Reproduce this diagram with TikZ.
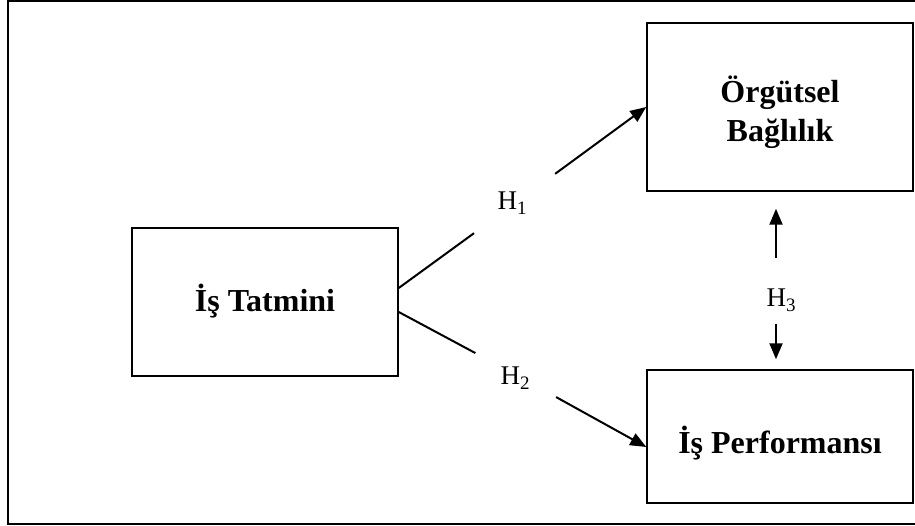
\documentclass[tikz,border=0pt]{standalone}
\usepackage{fontspec}
\setmainfont{Liberation Serif}
\usetikzlibrary{arrows.meta,calc}
\tikzset{
  box/.style={draw,line width=1.5pt,minimum width=266pt,inner sep=0pt},
  btext/.style={inner sep=0pt,align=center,font=\fontsize{32}{39}\selectfont\bfseries},
  hlab/.style={inner sep=0pt,font=\fontsize{27}{30}\selectfont},
  conn/.style={line width=2pt},
  arr/.style={line width=2pt,-{Triangle[length=16pt,width=13pt]}}
}
\newcommand{\hsub}[1]{H\raisebox{-0.2em}{\fontsize{19}{19}\selectfont #1}}
\begin{document}
\begin{tikzpicture}[x=1pt,y=-1pt]
\useasboundingbox (0,0) rectangle (915,526);
\draw[line width=2pt] (930,1) -- (8,1) -- (8,524) -- (930,524);
\node[box,minimum height=148pt] (tat) at (265,302) {};
\node[box,minimum height=168pt] (org) at (780,107) {};
\node[box,minimum height=133pt] (perf) at (780,436.5) {};
\node[btext] (tatT) at (265,301) {İş Tatmini};
\node[btext] (orgT) at (780,112) {Örgütsel\\Bağlılık};
\node[btext] (perfT) at (780,443) {İş Performansı};
\node[hlab] (h1) at (512,203) {\hsub{1}};
\node[hlab] (h2) at (515,378) {\hsub{2}};
\node[hlab] (h3) at (781,300) {\hsub{3}};
\coordinate (h1c) at (512,205.5);
\coordinate (h2c) at (515,374.3);
\draw[conn,shorten >=47pt] ($(tat.east)+(0,-14)$) -- (h1c);
\draw[arr,shorten <=53.5pt] (h1c) -- (org.west);
\draw[conn,shorten >=45pt] ($(tat.east)+(0,10)$) -- (h2c);
\draw[arr,shorten <=47pt] (h2c) -- ($(perf.west)+(0,10.5)$);
\draw[arr] ($(h3.north -| 776,0)+(0,-30)$) -- ($(org.south -| 776,0)+(0,17)$);
\draw[arr] ($(h3.south -| 776,0)+(0,12)$) -- ($(perf.north -| 776,0)+(0,-10)$);
\end{tikzpicture}
\end{document}
